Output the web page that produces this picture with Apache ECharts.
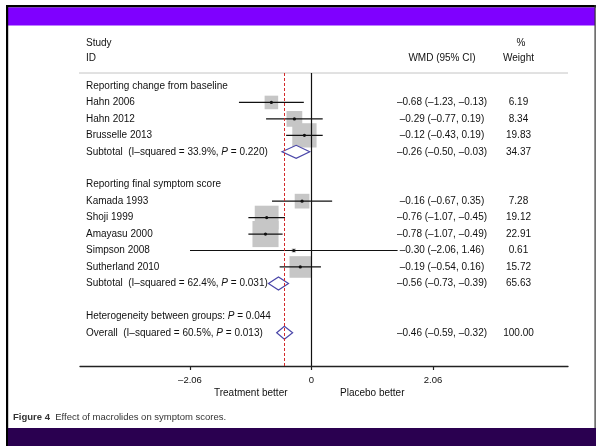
<!DOCTYPE html>
<html>
<head>
<meta charset="utf-8">
<script src="https://cdn.jsdelivr.net/npm/echarts@6/dist/echarts.min.js"></script>
<style>
  html, body { margin: 0; padding: 0; background: #fff; }
  #forestChart { width: 596px; height: 446px; }
</style>
</head>
<body>
<div id="forestChart"></div>
<script>
// individual studies
var studyNames = ['Hahn 2006', 'Hahn 2012', 'Brusselle 2013', 'Kamada 1993', 'Shoji 1999', 'Amayasu 2000', 'Simpson 2008', 'Sutherland 2010'];
var studyRows = [1, 2, 3, 7, 8, 9, 10, 11];
var studyWmd = [-0.68, -0.29, -0.12, -0.16, -0.76, -0.78, -0.30, -0.19];
var studyLow = [-1.23, -0.77, -0.43, -0.67, -1.07, -1.07, -2.06, -0.54];
var studyHigh = [-0.13, 0.19, 0.19, 0.35, -0.45, -0.49, 1.46, 0.16];
var studyWeight = [6.19, 8.34, 19.83, 7.28, 19.12, 22.91, 0.61, 15.72];

// pooled estimates (diamonds)
var pooledNames = ['Subtotal  (I\u2013squared = 33.9%, {i|P} = 0.220)', 'Subtotal  (I\u2013squared = 62.4%, {i|P} = 0.031)', 'Overall  (I\u2013squared = 60.5%, {i|P} = 0.013)'];
var pooledRows = [4, 12, 15];
var pooledWmd = [-0.26, -0.56, -0.46];
var pooledLow = [-0.50, -0.73, -0.59];
var pooledHigh = [-0.03, -0.39, -0.32];
var pooledWeight = [34.37, 65.63, 100.00];

// group headings
var headingNames = ['Reporting change from baseline', 'Reporting final symptom score', 'Heterogeneity between groups: {i|P} = 0.044'];
var headingRows = [0, 6, 14];

var tickValues = [-2.06, 0, 2.06];

var FONT = 'Liberation Sans, Arial, sans-serif';
var TXT = '#111';
var LABEL_X = 86, WMD_X = 442, WEIGHT_X = 518.5;
var italicRich = { i: { fontStyle: 'italic', fontSize: 10, fontFamily: FONT, fill: TXT } };

function fmt(v) {
  return (v < 0 ? '\u2013' : '') + Math.abs(v).toFixed(2);
}

function textEl(x, y, text, align) {
  return {
    type: 'text',
    style: {
      x: x, y: y, text: text, fill: TXT, fontSize: 10, fontFamily: FONT,
      align: align, textAlign: align, verticalAlign: 'middle', textVerticalAlign: 'middle',
      rich: italicRich
    }
  };
}

function renderStudy(params, api) {
  var i = params.dataIndex;
  var row = api.value(1);
  var mid = api.coord([api.value(0), row]);
  var lo = api.coord([api.value(2), row]);
  var hi = api.coord([api.value(3), row]);
  var side = 5.45 * Math.sqrt(api.value(4));
  return {
    type: 'group',
    children: [
      { type: 'rect', shape: { x: mid[0] - side / 2, y: mid[1] - side / 2, width: side, height: side }, style: { fill: '#c6c6c6' } },
      { type: 'line', shape: { x1: lo[0], y1: lo[1], x2: hi[0], y2: hi[1] }, style: { stroke: '#111', lineWidth: 1.2 } },
      { type: 'circle', shape: { cx: mid[0], cy: mid[1], r: 1.6 }, style: { fill: '#111' } },
      textEl(LABEL_X, mid[1], studyNames[i], 'left'),
      textEl(WMD_X, mid[1], fmt(studyWmd[i]) + ' (' + fmt(studyLow[i]) + ', ' + fmt(studyHigh[i]) + ')', 'center'),
      textEl(WEIGHT_X, mid[1], studyWeight[i].toFixed(2), 'center')
    ]
  };
}

function renderPooled(params, api) {
  var i = params.dataIndex;
  var row = api.value(1);
  var mid = api.coord([api.value(0), row]);
  var lo = api.coord([api.value(2), row]);
  var hi = api.coord([api.value(3), row]);
  var h = 6.5;
  return {
    type: 'group',
    children: [
      {
        type: 'polygon',
        shape: { points: [[lo[0], mid[1]], [mid[0], mid[1] - h], [hi[0], mid[1]], [mid[0], mid[1] + h]] },
        style: { fill: '#fff', stroke: '#4a46a8', lineWidth: 1.2 }
      },
      textEl(LABEL_X, mid[1], pooledNames[i], 'left'),
      textEl(WMD_X, mid[1], fmt(pooledWmd[i]) + ' (' + fmt(pooledLow[i]) + ', ' + fmt(pooledHigh[i]) + ')', 'center'),
      textEl(WEIGHT_X, mid[1], pooledWeight[i].toFixed(2), 'center')
    ]
  };
}

function renderHeading(params, api) {
  var p = api.coord([0, api.value(1)]);
  return textEl(LABEL_X, p[1], headingNames[params.dataIndex], 'left');
}

var forestChart = echarts.init(document.getElementById('forestChart'));

var option = {
  animation: false,
  grid: { left: 80, right: 28, top: 73, bottom: 80 },
  xAxis: {
    type: 'value',
    position: 'bottom',
    min: -3.925,
    max: 4.349,
    axisLine: { onZero: false, lineStyle: { color: '#222', width: 1.3 } },
    axisTick: { customValues: tickValues, length: 4, lineStyle: { color: '#222', width: 1.2 } },
    axisLabel: {
      customValues: tickValues,
      margin: 9,
      fontSize: 9.5,
      fontFamily: FONT,
      color: TXT,
      formatter: function (v) { return v === 0 ? '0' : fmt(v); }
    },
    splitLine: { show: false }
  },
  yAxis: {
    type: 'value',
    inverse: true,
    min: -0.79,
    max: 17.02,
    show: false
  },
  series: [
    {
      type: 'custom',
      clip: false,
      renderItem: renderStudy,
      data: studyWmd.map(function (v, i) { return [v, studyRows[i], studyLow[i], studyHigh[i], studyWeight[i]]; }),
      encode: { x: 0, y: 1 },
      z: 3,
      markLine: {
        silent: true,
        symbol: ['none', 'none'],
        label: { show: false },
        data: [
          { xAxis: 0, lineStyle: { color: '#111', width: 1.2, type: 'solid' } },
          { xAxis: pooledWmd[2], lineStyle: { color: '#d42a2a', width: 1, type: [3, 2] } }
        ]
      }
    },
    {
      type: 'custom',
      clip: false,
      renderItem: renderPooled,
      data: pooledWmd.map(function (v, i) { return [v, pooledRows[i], pooledLow[i], pooledHigh[i], pooledWeight[i]]; }),
      encode: { x: 0, y: 1 },
      z: 4
    },
    {
      type: 'custom',
      clip: false,
      renderItem: renderHeading,
      data: headingRows.map(function (r) { return [0, r]; }),
      encode: { x: 0, y: 1 }
    }
  ]
};

forestChart.setOption(option);

var leftPt = forestChart.convertToPixel({ gridIndex: 0 }, [-1.03, 0]);
var rightPt = forestChart.convertToPixel({ gridIndex: 0 }, [1.03, 0]);

function plainText(x, y, text, align, extra) {
  var s = { x: x, y: y, text: text, fill: TXT, fontSize: 10, fontFamily: FONT, align: align, verticalAlign: 'middle' };
  for (var k in extra) s[k] = extra[k];
  return { type: 'text', style: s, silent: true };
}

forestChart.setOption({
  graphic: [
    // page frame
    { type: 'rect', shape: { x: 6, y: 5, width: 590, height: 2.5 }, style: { fill: '#000' }, silent: true },
    { type: 'rect', shape: { x: 8, y: 7.5, width: 587, height: 18 }, style: { fill: '#7f00ff' }, silent: true },
    { type: 'rect', shape: { x: 6, y: 5, width: 2.2, height: 441 }, style: { fill: '#000' }, silent: true },
    { type: 'rect', shape: { x: 594.5, y: 5, width: 1.2, height: 423 }, style: { fill: '#333' }, silent: true },
    { type: 'rect', shape: { x: 8, y: 428, width: 588, height: 18 }, style: { fill: '#2a0050' }, silent: true },
    // header
    plainText(LABEL_X, 43, 'Study', 'left'),
    plainText(LABEL_X, 58, 'ID', 'left'),
    plainText(WMD_X, 58, 'WMD (95% CI)', 'center'),
    plainText(521, 43, '%', 'center'),
    plainText(WEIGHT_X, 58, 'Weight', 'center'),
    { type: 'line', shape: { x1: 79, y1: 73, x2: 568, y2: 73 }, style: { stroke: '#c4c4c4', lineWidth: 1 }, silent: true },
    // direction labels
    plainText(leftPt[0], 393, 'Treatment better', 'center'),
    plainText(rightPt[0], 393, 'Placebo better', 'center'),
    // caption
    plainText(13, 417, '{b|Figure 4}  Effect of macrolides on symptom scores.', 'left', {
      fontSize: 9.5, fill: '#333',
      rich: { b: { fontWeight: 'bold', fontSize: 9.5, fontFamily: FONT, fill: '#333' } }
    })
  ]
});
</script>
</body>
</html>
